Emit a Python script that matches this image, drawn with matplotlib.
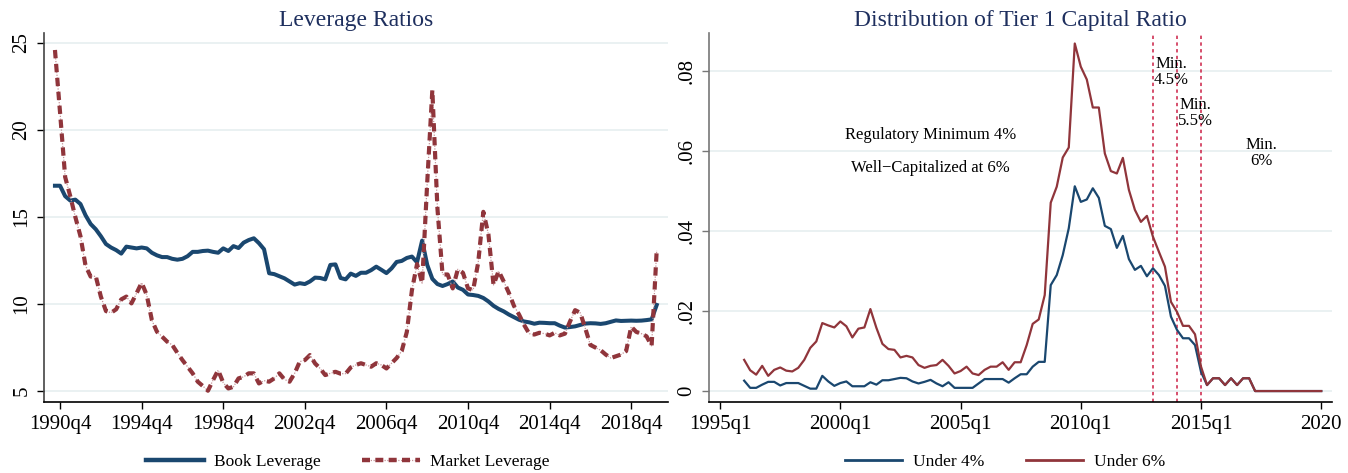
import numpy as np
import matplotlib
matplotlib.use("Agg")
import matplotlib.pyplot as plt
from matplotlib.lines import Line2D
from matplotlib.legend_handler import HandlerTuple

# ---------------- data: left panel (quarterly, 1990q3 - 2020q1) ----------------
left_start = "1990q3"
book_leverage = [
    16.8, 16.8, 16.2, 15.95, 16.0, 15.75, 15.1, 14.6, 14.3, 13.9, 13.45, 13.25, 13.1, 12.9, 13.3,
    13.25, 13.2, 13.25, 13.2, 12.95, 12.8, 12.7, 12.7, 12.6, 12.55, 12.6, 12.75, 13.0, 13.0,
    13.05, 13.07, 13.0, 12.95, 13.2, 13.05, 13.33, 13.22, 13.53, 13.68, 13.78, 13.5, 13.15, 11.77,
    11.72, 11.6, 11.48, 11.3, 11.12, 11.2, 11.15, 11.3, 11.52, 11.5, 11.42, 12.25, 12.28, 11.5,
    11.42, 11.75, 11.62,
    11.8, 11.8, 11.95, 12.15, 11.97, 11.78, 12.05, 12.42, 12.48, 12.65, 12.73, 12.4, 13.65, 12.25,
    11.45, 11.15, 11.04, 11.15, 11.3, 10.95, 10.82, 10.55, 10.52, 10.47, 10.35, 10.15, 9.9, 9.72,
    9.58, 9.4, 9.25,
    9.1, 9.0, 8.95, 8.87, 8.93, 8.92, 8.9, 8.9, 8.76, 8.65, 8.68, 8.72, 8.8, 8.88, 8.9, 8.89, 8.86,
    8.9, 8.98, 9.06, 9.03, 9.04, 9.05, 9.04, 9.05, 9.08, 9.12, 9.95,
]
market_leverage = [
    24.6, 21.0, 17.3, 16.2, 15.0, 13.9, 12.2, 11.58, 11.6, 10.43, 9.6, 9.5, 9.7, 10.27, 10.43,
    10.04, 10.62, 11.23, 10.52, 9.08, 8.41, 8.13, 7.84, 7.65, 7.2, 6.78, 6.4, 6.02, 5.54,
    5.29, 5.02, 5.63, 6.2, 5.48, 5.15, 5.25, 5.73, 5.82, 6.02, 6.02, 5.44, 5.6, 5.54, 5.73, 6.02,
    5.67, 5.54, 6.02, 6.69, 6.78, 7.07, 6.59, 6.3, 5.92, 6.02, 6.11, 6.0, 6.0, 6.36, 6.5,
    6.6, 6.5, 6.4, 6.6, 6.5, 6.3, 6.6, 6.9, 7.3, 8.4, 10.8, 12.3, 11.2, 17.0, 22.3, 15.5, 11.7,
    11.7, 10.9, 12.0, 11.8, 10.9, 10.8, 12.4, 15.3, 14.0, 11.1, 11.9, 11.3, 10.65, 9.9,
    9.4, 8.8, 8.3, 8.25, 8.35, 8.3, 8.2, 8.35, 8.2, 8.3, 9.0, 9.65, 9.5, 8.6, 7.65, 7.5, 7.35,
    7.1, 6.9, 7.0, 7.1, 7.3, 8.7, 8.4, 8.3, 8.15, 7.6, 13.1,
]
left_xtick_labels = ["1990q4", "1994q4", "1998q4", "2002q4", "2006q4", "2010q4", "2014q4", "2018q4"]
left_yticks = [5, 10, 15, 20, 25]

# ---------------- data: right panel (quarterly, 1996q1 - 2020q1) ----------------
right_start = "1996q1"
under_4 = [
    0.0026, 0.0008, 0.0008, 0.0016, 0.0023, 0.0023, 0.0014, 0.0020, 0.0020, 0.0020, 0.0013, 0.0006,
    0.0006, 0.0038, 0.0024, 0.0013, 0.0020, 0.0024, 0.0012, 0.0012, 0.0012, 0.0022, 0.0016, 0.0027,
    0.0027, 0.0030, 0.0033, 0.0032, 0.0024,
    0.0019, 0.0023, 0.0028, 0.0019, 0.0012, 0.0022, 0.0008, 0.0008, 0.0008, 0.0008, 0.0019, 0.0030,
    0.0030, 0.0030, 0.0030, 0.0021, 0.0032, 0.0042, 0.0042, 0.0061, 0.0073, 0.0073, 0.0265, 0.0290,
    0.0340, 0.0407, 0.0512, 0.0473, 0.0479, 0.0507, 0.0483, 0.0413, 0.0405, 0.0358,
    0.0388, 0.0330, 0.0303, 0.0313, 0.0287, 0.0307, 0.0290, 0.0263, 0.0186, 0.0153, 0.0132, 0.0132,
    0.0115, 0.0048,
    0.0015, 0.0032, 0.0032, 0.0015, 0.0032, 0.0015, 0.0032, 0.0032,
    0.0, 0.0, 0.0, 0.0, 0.0, 0.0, 0.0, 0.0, 0.0, 0.0, 0.0, 0.0,
]
under_6 = [
    0.0078, 0.0052, 0.0041, 0.0063, 0.0038, 0.0053, 0.0059, 0.0051, 0.0049, 0.0058, 0.0078, 0.0108,
    0.0124, 0.0170, 0.0164, 0.0159, 0.0174, 0.0162, 0.0134, 0.0156, 0.0159, 0.0205, 0.0158, 0.0118,
    0.0105, 0.0103, 0.0084, 0.0088, 0.0084,
    0.0065, 0.0058, 0.0063, 0.0065, 0.0078, 0.0063, 0.0044, 0.0050, 0.0061, 0.0044, 0.0040, 0.0053,
    0.0061, 0.0061, 0.0072, 0.0053, 0.0072, 0.0072, 0.0115, 0.0168, 0.0179, 0.0240, 0.0471, 0.0511,
    0.0584, 0.0609, 0.0869, 0.0811, 0.0779, 0.0709, 0.0709, 0.0594, 0.0550, 0.0544,
    0.0583, 0.0503, 0.0453, 0.0423, 0.0438, 0.0386, 0.0348, 0.0311, 0.0223, 0.0198, 0.0163, 0.0163,
    0.0142, 0.0061, 0.0015, 0.0032, 0.0032, 0.0015, 0.0032, 0.0015, 0.0032, 0.0032,
    0.0, 0.0, 0.0, 0.0, 0.0, 0.0, 0.0, 0.0, 0.0, 0.0, 0.0, 0.0,
]
right_xtick_pos = ["1995q1", "2000q1", "2005q1", "2010q1", "2015q1", "2020q1"]
right_xtick_labels = ["1995q1", "2000q1", "2005q1", "2010q1", "2015q1", "2020"]
right_yticks = [0, 0.02, 0.04, 0.06, 0.08]
right_ytick_labels = ["0", ".02", ".04", ".06", ".08"]
reg_change_quarters = ["2013q1", "2014q1", "2015q1"]
reg_change_labels = ["Min.\n4.5%", "Min.\n5.5%", "Min.\n6%"]
reg_label_pos = [("2013q4", 0.0797), ("2014q4", 0.0696), ("2017q3", 0.0596)]
notes = ["Regulatory Minimum 4%", "Well\u2212Capitalized at 6%"]
notes_pos = [("2003q4", 0.0640), ("2003q4", 0.0558)]


def q2num(q):
    y, qq = q.split("q")
    return int(y) + (int(qq) - 1) / 4.0


# ---------------- style ----------------
plt.rcParams["font.family"] = ["Liberation Serif", "DejaVu Serif"]
NAVY = "#1a476f"
MAROON = "#90353b"
GRID = "#e8f0f1"
TITLE = "#1e2f5e"
VLINE = "#cc1f45"

fig = plt.figure(figsize=(13.48, 4.73), dpi=100)
axL = fig.add_axes([0.0326, 0.150, 0.4629, 0.780])
axR = fig.add_axes([0.526, 0.150, 0.462, 0.780])

for ax in (axL, axR):
    for s in ("top", "right"):
        ax.spines[s].set_visible(False)
    ax.spines["bottom"].set_color("black")
    ax.spines["bottom"].set_linewidth(1.2)
    ax.spines["left"].set_linewidth(1.2)
    ax.yaxis.grid(True, color=GRID, linewidth=1.3)
    ax.set_axisbelow(True)
    ax.tick_params(axis="both", length=5, width=1.0, labelsize=15, pad=4)
axL.spines["left"].set_color("#444444")
axR.spines["left"].set_color("#777777")
axR.tick_params(axis="y", color="#777777")

# ---- left panel ----
tL = q2num(left_start) + np.arange(len(book_leverage)) / 4.0
axL.plot(tL, book_leverage, color=NAVY, linewidth=2.9, solid_joinstyle="round", zorder=3)
axL.plot(tL, market_leverage, color="#c49398", linewidth=0.9, linestyle=(0, (1.0, 1.2)), zorder=3)
axL.plot(tL, market_leverage, color=MAROON, linewidth=3.0, linestyle=(0, (2.0, 1.35)), zorder=4)
axL.set_xlim(1989.96, 2020.55)
axL.set_ylim(4.37, 25.57)
axL.set_yticks(left_yticks)
axL.set_yticklabels([str(v) for v in left_yticks], rotation=90, va="center")
axL.set_xticks([q2num(s) for s in left_xtick_labels])
axL.set_xticklabels(left_xtick_labels)
axL.set_title("Leverage Ratios", color=TITLE, fontsize=17, pad=5)

h_book = Line2D([], [], color=NAVY, linewidth=3.2)
h_mkt_a = Line2D([], [], color="#c49398", linewidth=0.9, linestyle=(0, (1.0, 1.2)))
h_mkt_b = Line2D([], [], color=MAROON, linewidth=3.2, linestyle=(0, (1.8, 1.2)))
fig.legend([h_book, (h_mkt_a, h_mkt_b)], ["Book Leverage", "Market Leverage"],
           handler_map={tuple: HandlerTuple(ndivide=1)},
           loc="center", bbox_to_anchor=(348 / 1348, 1 - 462 / 473), ncol=2, frameon=False,
           fontsize=12.5, handlelength=3.3, handletextpad=0.6, columnspacing=2.4)

# ---- right panel ----
tR = q2num(right_start) + np.arange(len(under_4)) / 4.0
axR.plot(tR, under_4, color=NAVY, linewidth=1.6, zorder=3)
axR.plot(tR, under_6, color=MAROON, linewidth=1.6, zorder=4)
for q in reg_change_quarters:
    axR.axvline(q2num(q), color=VLINE, linewidth=1.1, linestyle=(0, (2.2, 2.2)), zorder=2)
for lab, (q, yv) in zip(reg_change_labels, reg_label_pos):
    axR.text(q2num(q), yv, lab, ha="center", va="center", fontsize=12, linespacing=1.0, zorder=5)
for lab, (q, yv) in zip(notes, notes_pos):
    axR.text(q2num(q), yv, lab, ha="center", va="center", fontsize=12, zorder=5)
axR.set_xlim(1994.54, 2020.44)
axR.set_ylim(-0.00275, 0.0895)
axR.set_yticks(right_yticks)
axR.set_yticklabels(right_ytick_labels, rotation=90, va="center")
axR.set_xticks([q2num(s) for s in right_xtick_pos])
axR.set_xticklabels(right_xtick_labels)
axR.set_title("Distribution of Tier 1 Capital Ratio", color=TITLE, fontsize=17, pad=5)

h_u4 = Line2D([], [], color=NAVY, linewidth=2.0)
h_u6 = Line2D([], [], color=MAROON, linewidth=2.0)
fig.legend([h_u4, h_u6], ["Under 4%", "Under 6%"],
           loc="center", bbox_to_anchor=(1005 / 1348, 1 - 462 / 473), ncol=2, frameon=False,
           fontsize=12.5, handlelength=3.3, handletextpad=0.6, columnspacing=2.4)

fig.savefig("out.png", dpi=100)
